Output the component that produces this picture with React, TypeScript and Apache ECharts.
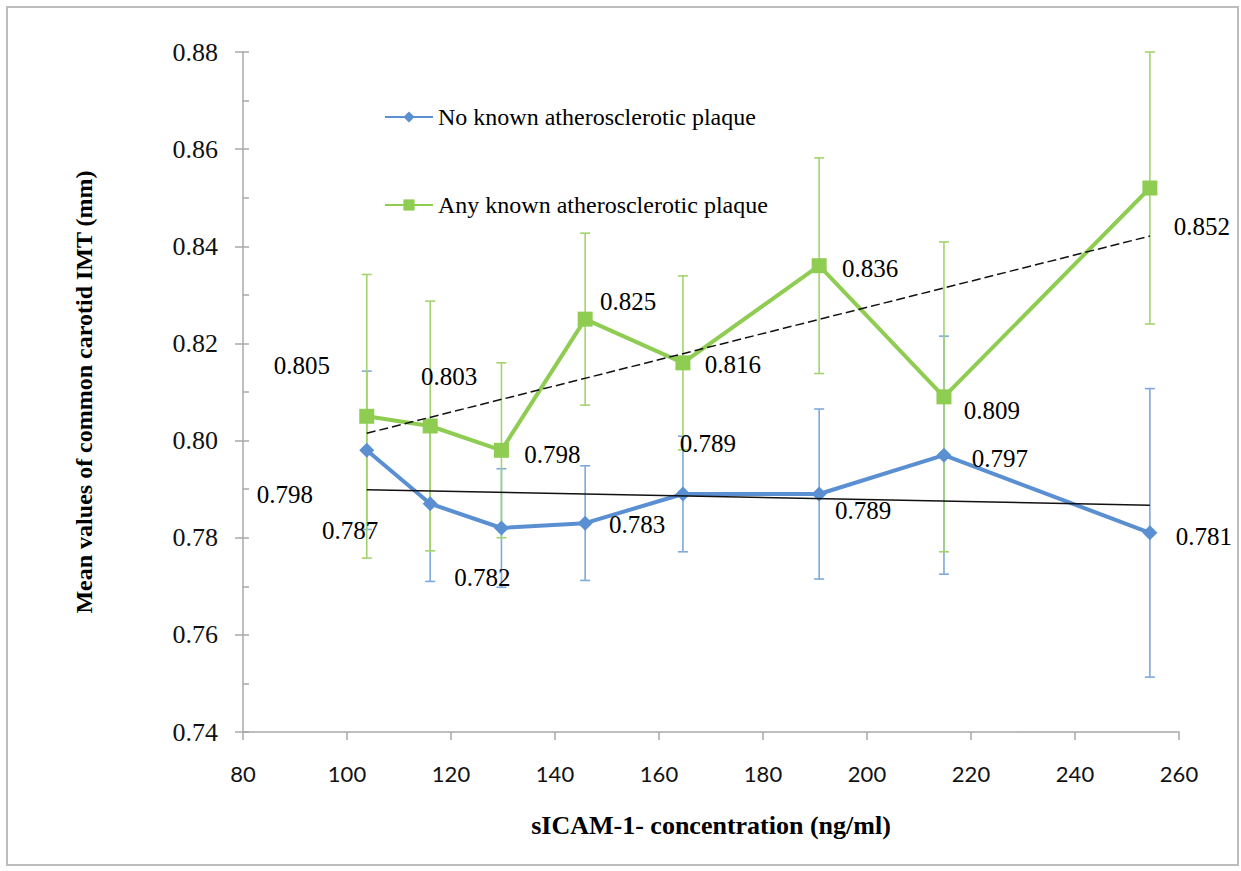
import React, { useEffect, useRef } from "react";
import * as echarts from "echarts";

// ---- data ----
const xValues = [103.8, 116, 129.7, 145.8, 164.6, 190.8, 214.8, 254.4];
const noPlaque = [0.798, 0.787, 0.782, 0.783, 0.789, 0.789, 0.797, 0.781];
const noPlaqueErr = [0.0163, 0.016, 0.0122, 0.0118, 0.0119, 0.0175, 0.0245, 0.0297];
const anyPlaque = [0.805, 0.803, 0.798, 0.825, 0.816, 0.836, 0.809, 0.852];
const anyPlaqueErr = [0.0292, 0.0257, 0.018, 0.0177, 0.0179, 0.0222, 0.0319, 0.028];
const noPlaqueTrend = [
  [103.8, 0.7899],
  [254.4, 0.7867],
];
const anyPlaqueTrend = [
  [103.8, 0.8015],
  [254.4, 0.8421],
];
const xTicks = { min: 80, max: 260, interval: 20 };
const yTicks = { min: 0.74, max: 0.88, interval: 0.02 };

const nameNo = "No known atherosclerotic plaque";
const nameAny = "Any known atherosclerotic plaque";
const xTitle = "sICAM-1- concentration (ng/ml)";
const yTitle = "Mean values of common carotid IMT (mm)";

// label placement (style only)
const noLabelOffsets = [
  [-82, 44],
  [-80, 27],
  [-19, 49],
  [52, 1],
  [25, -51],
  [44, 16],
  [56, 3],
  [54, 4],
];
const anyLabelOffsets = [
  [-65, -51],
  [19, -50],
  [51, 4],
  [43, -18],
  [50, 2],
  [51, 3],
  [48, 14],
  [52, 38],
];

const BLUE = "#5a8fd2";
const BLUE_ERR = "#7ea9dc";
const GREEN = "#8fcc52";
const GREEN_ERR = "#a2d46e";
const AXIS = "#a8a8a8";
const SERIF = "Liberation Serif";

function errorSeries(name: string, ys: number[], errs: number[], color: string) {
  return {
    name,
    type: "custom",
    z: 1,
    silent: true,
    encode: { x: 0, y: [1, 2] },
    data: xValues.map((x, i) => [x, ys[i] - errs[i], ys[i] + errs[i]]),
    renderItem: (params: any, api: any) => {
      const x = api.value(0);
      const lo = api.coord([x, api.value(1)]);
      const hi = api.coord([x, api.value(2)]);
      const cw = 5;
      const style = { stroke: color, lineWidth: 1.6 };
      return {
        type: "group",
        children: [
          { type: "line", shape: { x1: lo[0], y1: lo[1], x2: hi[0], y2: hi[1] }, style },
          { type: "line", shape: { x1: lo[0] - cw, y1: lo[1], x2: lo[0] + cw, y2: lo[1] }, style },
          { type: "line", shape: { x1: hi[0] - cw, y1: hi[1], x2: hi[0] + cw, y2: hi[1] }, style },
        ],
      };
    },
  };
}

function lineData(ys: number[], offsets: number[][]) {
  return xValues.map((x, i) => ({
    value: [x, ys[i]],
    label: { offset: offsets[i] },
  }));
}

export default function App() {
  const ref = useRef<HTMLDivElement>(null);
  useEffect(() => {
    if (!ref.current) return;
    const chart = echarts.init(ref.current, null, { renderer: "svg" });
    const labelStyle = {
      show: true,
      position: "inside",
      align: "center",
      verticalAlign: "middle",
      fontFamily: SERIF,
      fontSize: 25,
      color: "#000",
      formatter: (p: any) => Number(p.value[1]).toFixed(3),
    };
    chart.setOption({
      animation: false,
      backgroundColor: "#ffffff",
      graphic: [
        {
          type: "rect",
          silent: true,
          shape: { x: 7, y: 7, width: 1231, height: 858 },
          style: { fill: "none", stroke: "#bdbdbd", lineWidth: 2 },
        },
      ],
      grid: { left: 243, top: 52, right: 62, bottom: 139 },
      legend: {
        data: [nameNo, nameAny],
        orient: "vertical",
        left: 379,
        top: 100,
        itemGap: 64,
        itemWidth: 48,
        itemHeight: 14,
        textStyle: { fontFamily: SERIF, fontSize: 24, color: "#000" },
      },
      xAxis: {
        type: "value",
        min: xTicks.min,
        max: xTicks.max,
        interval: xTicks.interval,
        name: xTitle,
        nameLocation: "middle",
        nameGap: 80,
        nameTextStyle: { fontFamily: SERIF, fontWeight: "bold", fontSize: 26, color: "#000" },
        axisLine: { lineStyle: { color: AXIS, width: 1.5 } },
        axisTick: { length: 8, lineStyle: { color: AXIS, width: 1.5 } },
        axisLabel: { margin: 30, fontFamily: "Lato", fontSize: 22, color: "#111" },
        splitLine: { show: false },
      },
      yAxis: [
        {
          type: "value",
          min: yTicks.min,
          max: yTicks.max,
          interval: yTicks.interval,
          name: yTitle,
          nameLocation: "middle",
          nameGap: 147,
          nameRotate: 90,
          nameTextStyle: { fontFamily: SERIF, fontWeight: "bold", fontSize: 24, color: "#000" },
          axisLine: { show: true, lineStyle: { color: AXIS, width: 1.5 } },
          axisTick: { show: true, length: 8, lineStyle: { color: AXIS, width: 1.5 } },
          axisLabel: {
            margin: 25,
            fontFamily: SERIF,
            fontSize: 26,
            color: "#111",
            formatter: (v: number) => v.toFixed(2),
          },
          splitLine: { show: false },
        },
        {
          type: "value",
          position: "left",
          offset: 0,
          min: yTicks.min,
          max: yTicks.max,
          interval: yTicks.interval,
          axisLine: { show: false },
          axisLabel: { show: false },
          axisTick: { show: true, inside: true, length: 6, lineStyle: { color: AXIS, width: 1.5 } },
          minorTick: { show: true, splitNumber: 2, length: 6, lineStyle: { color: AXIS, width: 1.5 } },
          splitLine: { show: false },
        },
      ],
      series: [
        errorSeries("errNo", noPlaque, noPlaqueErr, BLUE_ERR),
        errorSeries("errAny", anyPlaque, anyPlaqueErr, GREEN_ERR),
        {
          name: nameNo,
          type: "line",
          z: 3,
          data: lineData(noPlaque, noLabelOffsets),
          symbol: "diamond",
          symbolSize: 15,
          itemStyle: { color: BLUE },
          lineStyle: { color: BLUE, width: 4 },
          label: labelStyle,
        },
        {
          name: nameAny,
          type: "line",
          z: 3,
          data: lineData(anyPlaque, anyLabelOffsets),
          symbol: "rect",
          symbolSize: 15,
          itemStyle: { color: GREEN },
          lineStyle: { color: GREEN, width: 4 },
          label: labelStyle,
        },
        {
          name: "trendNo",
          type: "line",
          z: 4,
          silent: true,
          data: noPlaqueTrend,
          symbol: "none",
          lineStyle: { color: "#111", width: 1.5 },
        },
        {
          name: "trendAny",
          type: "line",
          z: 4,
          silent: true,
          data: anyPlaqueTrend,
          symbol: "none",
          lineStyle: { color: "#111", width: 1.5, type: [9, 4] },
        },
      ],
    });
    return () => chart.dispose();
  }, []);
  return (
    <div
      ref={ref}
      style={{ position: "absolute", left: 0, top: 0, width: 1241, height: 871, background: "#fff" }}
    />
  );
}
